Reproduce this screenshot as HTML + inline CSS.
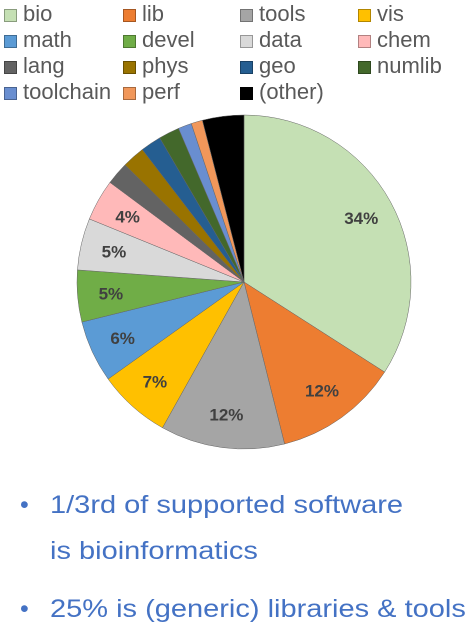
<!DOCTYPE html>
<html><head><meta charset="utf-8"><style>
body{margin:0;width:475px;height:627px;background:#fff;font-family:"Liberation Sans",sans-serif;overflow:hidden;position:relative}
.leg{position:absolute;font-size:22px;color:#595959;line-height:24px;white-space:nowrap}
.leg i{display:inline-block;width:13px;height:13px;border:1px solid rgba(0,0,0,0.3);margin-right:6px;vertical-align:-1px;box-sizing:border-box}
.bul{position:absolute;color:#4472C4;font-size:25px;line-height:28px;white-space:nowrap}
.sx{display:inline-block;transform:scaleX(1.16);transform-origin:0 0}
</style></head><body>
<div id="legend"></div>
<svg id="pie" width="475" height="470" style="position:absolute;left:0;top:0"></svg>
<div class="bul" style="left:20px;top:491px">•</div>
<div class="bul" style="left:50px;top:491px"><span class="sx">1/3rd of supported software</span><br><span class="sx" style="margin-top:18px">is bioinformatics</span></div>
<div class="bul" style="left:20px;top:595px">•</div>
<div class="bul" style="left:50px;top:595px"><span class="sx">25% is (generic) libraries &amp; tools</span></div>
<script>
const categories=["bio","lib","tools","vis","math","devel","data","chem","lang","phys","geo","numlib","toolchain","perf","(other)"];
const values=[34,12,12,7,6,5,5,4,2.2,2.2,2,2,1.3,1.1,4];
const labels=["34%","12%","12%","7%","6%","5%","5%","4%","","","","","","",""];
const colors=["#C5E0B4","#ED7D31","#A5A5A5","#FFC000","#5B9BD5","#70AD47","#D9D9D9","#FFB9B9","#636363","#997300","#255E91","#43682B","#698ED0","#F1975A","#000000"];
const NS="http://www.w3.org/2000/svg";
const svg=document.getElementById('pie');
const cx=244,cy=282,r=167;
const total=values.reduce((a,b)=>a+b,0);
function pt(a,rr){return [cx+rr*Math.sin(a),cy-rr*Math.cos(a)];}
let acc=0;
values.forEach((v,i)=>{
  const a0=acc/total*2*Math.PI,a1=(acc+v)/total*2*Math.PI;acc+=v;
  const p0=pt(a0,r),p1=pt(a1,r);
  const p=document.createElementNS(NS,'path');
  p.setAttribute('d',`M${cx},${cy}L${p0[0]},${p0[1]}A${r},${r} 0 ${a1-a0>Math.PI?1:0} 1 ${p1[0]},${p1[1]}Z`);
  p.setAttribute('fill',colors[i]);p.setAttribute('stroke','#666');p.setAttribute('stroke-width','0.5');
  
  
  svg.appendChild(p);
  if(labels[i]){
    const m=(a0+a1)/2,lp=pt(m,r*0.8);
    const t=document.createElementNS(NS,'text');
    t.setAttribute('x',lp[0]);t.setAttribute('y',lp[1]+6);
    t.setAttribute('text-anchor','middle');t.setAttribute('font-size','17');
    t.setAttribute('font-weight','bold');t.setAttribute('fill','#404040');
    t.setAttribute('font-family','Liberation Sans, sans-serif');
    t.textContent=labels[i];
    
    
    svg.appendChild(t);
  }
});
const leg=document.getElementById('legend');
const colX=[4,123,240,358];
categories.forEach((c,i)=>{
  const d=document.createElement('div');d.className='leg';
  d.style.left=colX[i%4]+'px';d.style.top=(2+Math.floor(i/4)*26)+'px';
  d.innerHTML='<i style="background:'+colors[i]+'"></i>'+c;
  
  
  leg.appendChild(d);
});
</script>
</body></html>
